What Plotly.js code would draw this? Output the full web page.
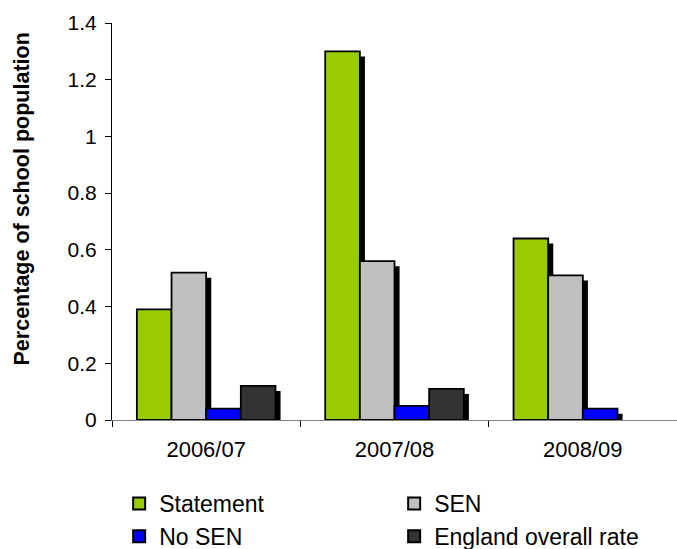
<!DOCTYPE html>
<html>
<head>
<meta charset="utf-8">
<script src="https://cdn.plot.ly/plotly-3.0.1.min.js"></script>
<style>
  html, body { margin: 0; padding: 0; background: #fff; }
  #chart { width: 677px; height: 549px; }
</style>
</head>
<body>
<div id="chart"></div>
<script>
// ---- Data ----
const years = ["2006/07", "2007/08", "2008/09"];
const statement = [0.39, 1.30, 0.64];
const sen = [0.52, 0.56, 0.51];
const noSen = [0.04, 0.05, 0.04];
const england = [0.12, 0.11, null];
const seriesNames = ["Statement", "SEN", "No SEN", "England overall rate"];
const yTicks = [0, 0.2, 0.4, 0.6, 0.8, 1, 1.2, 1.4];
const yTickText = ["0", "0.2", "0.4", "0.6", "0.8", "1", "1.2", "1.4"];
const yTitle = "Percentage of school population";

// ---- Style ----
const colors = ["#99CC00", "#C0C0C0", "#0000FF", "#333333"];
const FONT = "Liberation Sans, Arial, sans-serif";
const barW = 0.184;
const shadowDx = 0.027;   // ~5px to the right
const shadowDy = 0.018;   // ~5px lower top

const series = [statement, sen, noSen, england];
const traces = [];

// shadows (drawn first, behind)
series.forEach((vals, i) => {
  traces.push({
    type: "bar",
    x: years,
    y: vals.map(v => (v === null ? null : Math.max(v - shadowDy, 0))),
    width: barW,
    offset: -2 * barW + i * barW + shadowDx,
    marker: { color: "#000000", line: { width: 0 } },
    showlegend: false,
    hoverinfo: "skip"
  });
});

// main bars
series.forEach((vals, i) => {
  traces.push({
    type: "bar",
    name: seriesNames[i],
    x: years,
    y: vals,
    width: barW,
    offset: -2 * barW + i * barW,
    marker: { color: colors[i], line: { color: "#000000", width: 1.8 } }
  });
});

const layout = {
  width: 677,
  height: 549,
  margin: { l: 112, r: 0, t: 23, b: 129, autoexpand: false },
  paper_bgcolor: "#ffffff",
  plot_bgcolor: "#ffffff",
  barmode: "overlay",
  font: { family: FONT, color: "#000000", size: 21 },
  showlegend: true,
  legend: {
    orientation: "h",
    xref: "container",
    yref: "container",
    x: 0.176,
    y: 0.122,
    xanchor: "left",
    yanchor: "top",
    entrywidth: 230,
    entrywidthmode: "pixels",
    font: { family: FONT, size: 23, color: "#000000" },
    itemsizing: "constant",
    traceorder: "normal",
    bgcolor: "rgba(0,0,0,0)"
  },
  xaxis: {
    type: "category",
    range: [-0.5, 2.5],
    showline: true,
    linecolor: "#808080",
    linewidth: 1,
    ticks: "outside",
    tickson: "boundaries",
    ticklen: 6,
    tickcolor: "#000000",
    tickwidth: 1,
    showgrid: false,
    zeroline: false,
    tickfont: { family: FONT, size: 22, color: "#000000" },
    ticklabelstandoff: 10,
    fixedrange: true
  },
  yaxis: {
    range: [0, 1.4],
    tickvals: yTicks,
    ticktext: yTickText,
    showline: true,
    linecolor: "#000000",
    linewidth: 1,
    ticks: "outside",
    ticklen: 6,
    tickcolor: "#000000",
    showgrid: false,
    zeroline: false,
    tickfont: { family: FONT, size: 21, color: "#000000" },
    ticklabelstandoff: 4,
    fixedrange: true
  },
  annotations: [{
    text: "<b>" + yTitle + "</b>",
    textangle: -90,
    xref: "paper",
    yref: "paper",
    x: -0.160,
    y: 0.557,
    xanchor: "center",
    yanchor: "middle",
    showarrow: false,
    font: { family: FONT, size: 21.5, color: "#000000" }
  }]
};

Plotly.newPlot("chart", traces, layout, { displayModeBar: false, staticPlot: true });
</script>
</body>
</html>
